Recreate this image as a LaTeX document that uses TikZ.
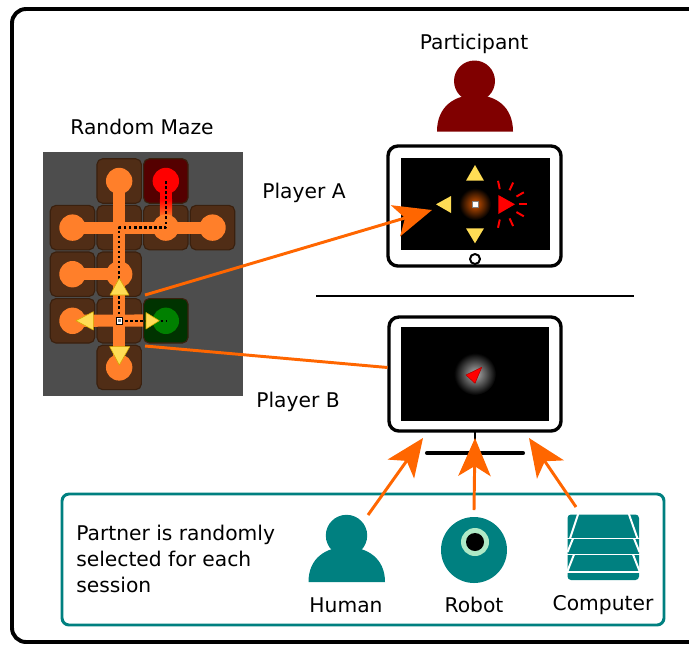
\documentclass[tikz,border=0pt]{standalone}
\usepackage{fontspec}
\setmainfont{DejaVu Sans}
\usetikzlibrary{arrows.meta,calc}

\definecolor{pipeorange}{HTML}{FF7F2A}
\definecolor{linkorange}{HTML}{FF6600}
\definecolor{tilebrown}{HTML}{502D16}
\definecolor{tileedge}{HTML}{3A200E}
\definecolor{mazegray}{HTML}{4D4D4D}
\definecolor{goaltile}{HTML}{003300}
\definecolor{goalgreen}{HTML}{008000}
\definecolor{starttile}{HTML}{550000}
\definecolor{arrowyellow}{HTML}{FFDD55}
\definecolor{arrowedge}{HTML}{D4AA00}
\definecolor{partnerteal}{HTML}{008080}
\definecolor{eyegreen}{HTML}{AFE9C6}
\definecolor{darkred}{HTML}{800000}
\definecolor{glow}{HTML}{D45500}

\begin{document}
\begin{tikzpicture}[x=0.025cm, y=-0.025cm, line join=round,
    font=\fontsize{14.4}{18.8}\selectfont]
  \path[use as bounding box] (0,0) rectangle (689,646);
  \clip (0,0) rectangle (689,646);
  \tikzset{
    tile/.style={fill=tilebrown, draw=tileedge, line width=0.8pt,
      rounded corners=4pt, minimum size=31.6pt, inner sep=0pt},
    pipe/.style={draw=pipeorange, line width=8.6pt},
    yellowtri/.style={fill=arrowyellow, draw=arrowedge, line width=0.4pt},
    link/.style={draw=linkorange, line width=2.1pt},
    bigtip/.style={-{Stealth[length=27pt, width=23pt, inset=7pt]}},
    device/.style={draw, fill=white, line width=2.4pt, rounded corners=7pt},
    lab/.style={inner sep=0pt}
  }

  % --- outer frame
  \draw[line width=2.8pt, rounded corners=10pt] (12,9) rectangle (730,642);

  % --- maze: tile centres t<col><row>
  \foreach \c in {1,...,4}
    \foreach \r in {1,...,5}
      \coordinate (t\c\r) at ({25.83+46.67*\c}, {134.4+46.6*\r});

  \fill[mazegray] (43,152) rectangle (243,396);
  \foreach \c/\r in {2/1, 1/2, 2/2, 3/2, 4/2, 1/3, 2/3, 1/4, 2/4, 2/5}
    \node[tile] (tile\c\r) at (t\c\r) {};
  \node[tile, fill=starttile] (tile31) at (t31) {};
  \node[tile, fill=goaltile] (tile34) at (t34) {};

  % pipes
  \draw[pipe] (t21) -- (t25);
  \draw[pipe] (t12) -- (t42);
  \draw[pipe] (t13) -- (t23);
  \draw[pipe] (t14) -- (143,320.5);
  \draw[pipe] (t31) -- (t32);
  \fill[red] (159.8,181) rectangle (172.1,200);
  \shade[top color=red, bottom color=pipeorange] (159.8,199.5) rectangle (172.1,218);

  \foreach \p in {t21, t12, t42, t13, t14, t25, t23, t32}
    \fill[pipeorange] (\p) circle [radius=13.2];
  \fill[red] (t31) circle [radius=13.2];
  \fill[goalgreen] (t34) circle [radius=13.2];

  % solution path
  \draw[line width=1.8pt, dash pattern=on 1.8pt off 1.8pt]
    (t31) -- (t32) -- (t22) -- (t24) -- (t34);

  % move arrows around the cursor
  \path[yellowtri] (119.3,278.3) -- (110,295) -- (129,295) -- cycle;
  \path[yellowtri] (76,320.7) -- (93.3,311.7) -- (93.3,330) -- cycle;
  \path[yellowtri] (159.3,320.7) -- (146,312.5) -- (146,329) -- cycle;
  \path[yellowtri] (119.3,365) -- (109.7,346.7) -- (129.7,346.7) -- cycle;
  \draw[fill=white, line width=0.6pt] (116,317.4) rectangle (122.6,324);
  \fill[gray] (118,319.4) rectangle (120.6,322);

  \node[lab] (mazelab) at (142,127) {Random Maze};

  % --- participant
  \node[lab] (partlab) at (474,44) {Participant};
  \fill[darkred] (437,131.5) .. controls (437,106) and (455,95) .. (475,95)
    .. controls (495,95) and (513,106) .. (513,131.5) -- cycle;
  \fill[darkred] (474.5,81) circle [radius=20.5];

  % --- player A: tablet
  \node[lab] (playa) at (304,193) {Player A};
  \path[device] (388,146) rectangle (561,266);
  \fill (401,158) rectangle (550,250);
  \draw[line width=1.4pt, fill=white] (475,259) circle [radius=5];
  \shade[inner color=glow, outer color=black] (475,204) circle [radius=16];
  \draw[fill=white, line width=0.5pt, draw=gray] (472,201) rectangle (478,207);
  \path[yellowtri, draw=none] (475,165) -- (466,180.7) -- (484,180.7) -- cycle;
  \path[yellowtri, draw=none] (475,243.3) -- (466,228.3) -- (484,228.3) -- cycle;
  \path[yellowtri, draw=none] (436,204.3) -- (451,196) -- (451,213) -- cycle;
  \fill[red] (515,204.3) -- (498.3,195) -- (498.3,214) -- cycle;
  \foreach \a in {102,65,30,0,-30,-65,-102}
    \draw[red, line width=1.4pt] ($(503,204.3)+(\a:15.5)$) -- ($(503,204.3)+(\a:24)$);

  % --- divider
  \draw[line width=2.1pt] (316,296) -- (634,296);

  % --- player B: monitor
  \node[lab] (playb) at (298,402) {Player B};
  \draw[line width=2.1pt] (475,431) -- (475,453);
  \draw[line width=2.9pt, line cap=round] (427,453) -- (523,453);
  \path[device] (389,317) rectangle (561,431);
  \fill (401,327) rectangle (549,421);
  \shade[inner color=white!70!black, outer color=black] (475,374) circle [radius=21];
  \draw[fill=red, draw=red!70!black, line width=0.4pt]
    (466,375) -- (481.7,367.3) -- (475,383.3) -- cycle;

  % --- partner box
  \draw[partnerteal, line width=2.1pt, rounded corners=5pt] (62,494) rectangle (664,625);
  \node[lab, anchor=west, align=left] (partner) at (76,559)
    {Partner is randomly\\selected for each\\session};

  % human
  \fill[partnerteal] (308.5,582) .. controls (308.5,558) and (326,547) .. (346.5,547)
    .. controls (367,547) and (385,558) .. (385,582) -- cycle;
  \fill[partnerteal] (346.5,535.5) circle [radius=20.7];
  \node[lab] (human) at (346,605) {Human};

  % robot
  \fill[partnerteal] (474,550) circle [radius=33];
  \fill[eyegreen] (475,542) circle [radius=14];
  \fill (475,542) circle [radius=9];
  \node[lab] (robot) at (474,605) {Robot};

  % computer
  \fill[partnerteal, rounded corners=2.5pt] (567.5,514.5) rectangle (639,580);
  \begin{scope}[white, line width=1.4pt]
    \draw (566,538.5) -- (641,538.5);
    \draw (566,554.5) -- (641,554.5);
    \draw (566,572) -- (641,572);
    \draw (578.5,513) -- (570,538.5);  \draw (628.5,513) -- (637.5,538.5);
    \draw (573,538.5) -- (567.5,552);  \draw (634,538.5) -- (639.5,552);
    \draw (574,554.5) -- (567.5,571);  \draw (633,554.5) -- (639.5,571);
  \end{scope}
  \node[lab] (computer) at (603,605) {Computer};

  % --- connectors
  \coordinate (mazea) at (145,295);
  \coordinate (mazeb) at (145,346);
  \coordinate (tabletin) at (432,210);
  \coordinate (monitorin) at (387.5,367.5);
  \coordinate (humanout) at (368,515);
  \coordinate (robotout) at (474,510);
  \coordinate (computerout) at (576,507);
  \coordinate (standl) at (423,438);
  \coordinate (standc) at (475,438);
  \coordinate (standr) at (529,438);

  \draw[link, bigtip] (mazea) -- (tabletin);
  \draw[link] (mazeb) -- (monitorin);
  \draw[link, bigtip] (humanout) -- (standl);
  \draw[link, bigtip] (robotout) -- (standc);
  \draw[link, bigtip] (computerout) -- (standr);
\end{tikzpicture}
\end{document}
